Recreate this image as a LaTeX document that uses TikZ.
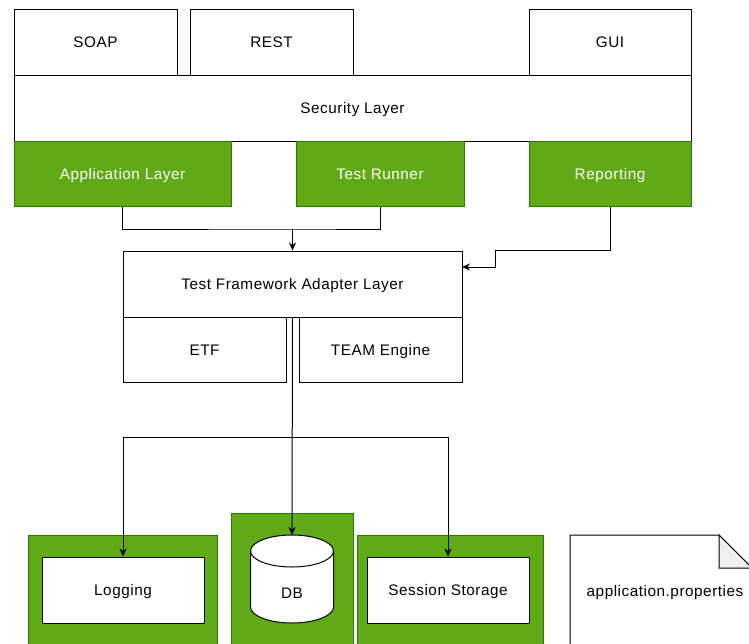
\documentclass[tikz,border=0pt]{standalone}
\usepackage{fontspec}
\setmainfont{Liberation Sans}[LetterSpace=3.5]
\usepackage{xcolor}
\usetikzlibrary{arrows.meta}

\definecolor{layergreen}{HTML}{60A917}
\definecolor{layergreendark}{HTML}{2D7600}
\definecolor{foldgrey}{HTML}{F0F0F0}

\begin{document}
\begin{tikzpicture}[x=1pt, y=-1pt, >={Stealth[length=8pt, width=7pt]},
    plaintext/.style={inner sep=0pt, text height=11pt, text depth=0pt,
                font=\fontsize{15.3}{18}\selectfont},
    box/.style={plaintext, draw, fill=white, line width=1pt},
    greenbox/.style={box, draw=layergreendark, fill=layergreen, text=white},
    wire/.style={line width=1pt}]
        \useasboundingbox (0,0) rectangle (749,643);
        \clip (0,0) rectangle (749,643);

        % Top row
        \node[box, minimum width=163, minimum height=66] (soap) at (95.5,42) {SOAP};
        \node[box, minimum width=163, minimum height=66] (rest) at (271.5,42) {REST};
        \node[box, minimum width=162, minimum height=66] (gui) at (610,42) {GUI};
        \node[box, minimum width=677, minimum height=66] (security) at (352.5,108) {Security Layer};

        % Green layers
        \node[greenbox, minimum width=217, minimum height=65] (app) at (122.5,173.5) {Application Layer};
        \node[greenbox, minimum width=168, minimum height=65] (runner) at (380,173.5) {Test Runner};
        \node[greenbox, minimum width=162, minimum height=65] (report) at (610,173.5) {Reporting};

        % Adapter layer
        \node[box, minimum width=339, minimum height=66] (adapter) at (292.5,284) {Test Framework Adapter Layer};
        \node[box, minimum width=163, minimum height=65] (etf) at (204.5,349.5) {ETF};
        \node[box, minimum width=163, minimum height=65] (team) at (380.5,349.5) {TEAM Engine};

        % Storage row
        \filldraw[greenbox] (28,535) rectangle (217,660);
        \filldraw[greenbox] (231,513) rectangle (353,660);
        \filldraw[greenbox] (357,535) rectangle (543,660);
        \node[box, minimum width=162, minimum height=66] (logging) at (123,590) {Logging};
        \node[box, minimum width=162, minimum height=66] (session) at (448,590) {Session Storage};

        % DB cylinder
        \draw[box] (250.5,551) -- (250.5,607) arc[start angle=180, end angle=0, x radius=41.5, y radius=16]
            -- (333.5,551) arc[start angle=0, end angle=-180, x radius=41.5, y radius=16] -- cycle;
        \draw[wire] (250.5,551) arc[start angle=180, end angle=0, x radius=41.5, y radius=16];
        \node[plaintext] (db) at (292,593) {DB};
        \coordinate (dbtop) at (292,535);

        % Properties file
        \draw[box] (570,660) -- (570,535) -- (719,535) -- (752,568) -- (752,660);
        \draw[wire, fill=foldgrey] (719,535) -- (719,568) -- (752,568) -- cycle;
        \node[plaintext] (props) at (665,591) {application.properties};

        % Connectors
        \coordinate (join) at (292.5,229);
        \coordinate (bend) at (495,250);
        \coordinate (rin) at (462,267);
        \coordinate (split) at (292.5,437);
        \draw[wire] (app.south) |- (join) -| (runner.south);
        \draw[wire, ->] (join) -- (adapter.north);
        \draw[wire, ->] (report.south) |- (bend) |- (rin);
        \draw[wire, ->] (adapter.south) -- (dbtop);
        \draw[wire, ->] (split) -| (logging.north);
        \draw[wire, ->] (split) -| (session.north);
\end{tikzpicture}
\end{document}
